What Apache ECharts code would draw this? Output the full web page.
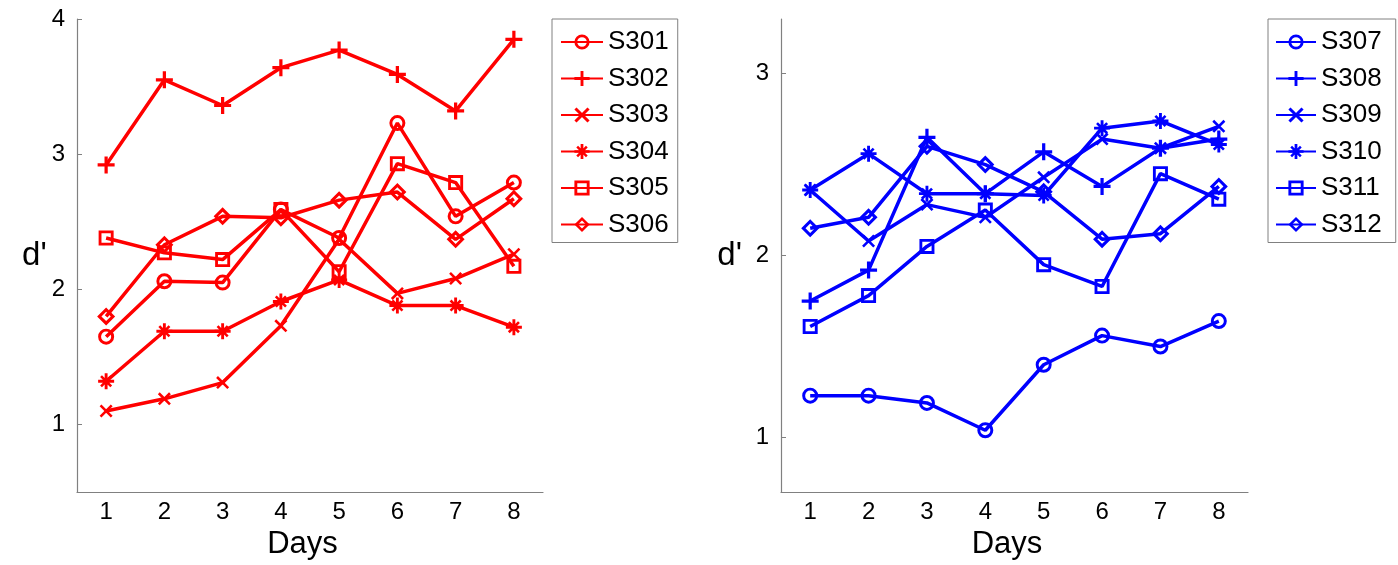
<!DOCTYPE html>
<html>
<head>
<meta charset="utf-8">
<script src="https://cdn.jsdelivr.net/npm/echarts@6/dist/echarts.min.js"></script>
<style>
html,body{margin:0;padding:0;background:#fff;}
#chart{width:1398px;height:565px;}
</style>
</head>
<body>
<div id="chart"></div>
<script>
// ---- data ----
const days = ['1', '2', '3', '4', '5', '6', '7', '8'];
const yTicksLeft = [1, 2, 3, 4];
const yTicksRight = [1, 2, 3];

const namesLeft = ['S301', 'S302', 'S303', 'S304', 'S305', 'S306'];
const S301 = [1.65, 2.06, 2.05, 2.59, 2.38, 3.23, 2.54, 2.79];
const S302 = [2.92, 3.55, 3.36, 3.64, 3.77, 3.59, 3.32, 3.85];
const S303 = [1.10, 1.19, 1.31, 1.73, 2.37, 1.97, 2.08, 2.26];
const S304 = [1.32, 1.69, 1.69, 1.91, 2.07, 1.88, 1.88, 1.72];
const S305 = [2.38, 2.27, 2.22, 2.59, 2.13, 2.93, 2.79, 2.17];
const S306 = [1.80, 2.33, 2.54, 2.53, 2.66, 2.72, 2.37, 2.67];

const namesRight = ['S307', 'S308', 'S309', 'S310', 'S311', 'S312'];
const S307 = [1.23, 1.23, 1.19, 1.04, 1.40, 1.56, 1.50, 1.64];
const S308 = [1.75, 1.92, 2.65, 2.34, 2.57, 2.38, 2.59, 2.64];
const S309 = [2.36, 2.08, 2.28, 2.21, 2.43, 2.64, 2.59, 2.71];
const S310 = [2.36, 2.56, 2.34, 2.34, 2.33, 2.70, 2.74, 2.61];
const S311 = [1.61, 1.78, 2.05, 2.25, 1.95, 1.83, 2.45, 2.31];
const S312 = [2.15, 2.21, 2.60, 2.50, 2.35, 2.09, 2.12, 2.38];

const leftData = [S301, S302, S303, S304, S305, S306];
const rightData = [S307, S308, S309, S310, S311, S312];

// ---- marker shapes (hollow, transparent interior) ----
const SYM_RING = 'path://M-10,0 A10,10 0 1,0 10,0 A10,10 0 1,0 -10,0 Z M-6.3,0 A6.3,6.3 0 1,1 6.3,0 A6.3,6.3 0 1,1 -6.3,0 Z';
const SYM_PLUS = 'path://M-1.9,-10 H1.9 V-1.9 H10 V1.9 H1.9 V10 H-1.9 V1.9 H-10 V-1.9 H-1.9 Z';
const SYM_X = 'path://M-10,-7.2 L-7.2,-10 L10,7.2 L7.2,10 Z M7.2,-10 L10,-7.2 L-7.2,10 L-10,7.2 Z';
const SYM_STAR = 'path://M-1.8,-10 H1.8 V-1.8 H10 V1.8 H1.8 V10 H-1.8 V1.8 H-10 V-1.8 H-1.8 Z ' +
  'M-7.5,-5.2 L-5.2,-7.5 L7.5,5.2 L5.2,7.5 Z M5.2,-7.5 L7.5,-5.2 L-5.2,7.5 L-7.5,5.2 Z';
const SYM_SQUARE = 'path://M-10,-10 H10 V10 H-10 Z M-6.2,-6.2 V6.2 H6.2 V-6.2 Z';
const SYM_DIAMOND = 'path://M0,-10 L10,0 L0,10 L-10,0 Z M0,-5.2 L-5.2,0 L0,5.2 L5.2,0 Z';

const symbols = [SYM_RING, SYM_PLUS, SYM_X, SYM_STAR, SYM_SQUARE, SYM_DIAMOND];
const symSizes = [16, 17, 13, 16, 15, 18];

const FONT = '"Liberation Sans", Arial, Helvetica, sans-serif';
const AXIS_GRAY = '#808080';

function makeSeries(names, data, color, idx) {
  return names.map((n, i) => ({
    name: n,
    type: 'line',
    xAxisIndex: idx,
    yAxisIndex: idx,
    data: data[i],
    symbol: symbols[i],
    symbolSize: symSizes[i],
    showAllSymbol: true,
    lineStyle: { color: color, width: 3.5 },
    itemStyle: { color: color, borderWidth: 0 },
    emphasis: { disabled: true }
  }));
}

function xAxis(idx) {
  return {
    type: 'category',
    gridIndex: idx,
    data: days,
    boundaryGap: true,
    name: 'Days',
    nameLocation: 'middle',
    nameGap: 36,
    nameTextStyle: { fontFamily: FONT, fontSize: 31, color: '#000', padding: [0, 15, 0, 0] },
    axisLine: { lineStyle: { color: AXIS_GRAY, width: 1.2 } },
    axisTick: { inside: true, alignWithLabel: true, length: 5, lineStyle: { color: AXIS_GRAY } },
    axisLabel: { fontFamily: FONT, fontSize: 24, color: '#000', margin: 8 },
    splitLine: { show: false }
  };
}

function yAxis(idx, min, max, ticks, gap) {
  return {
    type: 'value',
    gridIndex: idx,
    min: min,
    max: max,
    name: "d'",
    nameLocation: 'middle',
    nameRotate: 0,
    nameGap: gap,
    nameTextStyle: { fontFamily: FONT, fontSize: 33, color: '#000', padding: [8, 0, 0, 0] },
    axisLine: { show: true, lineStyle: { color: AXIS_GRAY, width: 1.2 } },
    axisTick: { show: true, inside: true, length: 5, customValues: ticks, lineStyle: { color: AXIS_GRAY } },
    axisLabel: { fontFamily: FONT, fontSize: 24, color: '#000', margin: 12, customValues: ticks },
    splitLine: { show: false }
  };
}

function legend(left, names, itemWidth, padding) {
  return {
    left: left,
    top: 19,
    orient: 'vertical',
    data: names,
    itemWidth: itemWidth,
    itemHeight: 19,
    itemGap: 10.5,
    padding: padding,
    borderColor: '#808080',
    borderWidth: 1,
    backgroundColor: '#fff',
    selectedMode: false,
    textStyle: { fontFamily: FONT, fontSize: 26, color: '#000' }
  };
}

const chart = echarts.init(document.getElementById('chart'), null, { renderer: 'canvas' });
chart.setOption({
  animation: false,
  backgroundColor: '#fff',
  grid: [
    { left: 77, top: 19, width: 466, height: 474 },
    { left: 781, top: 19, width: 467, height: 474 }
  ],
  xAxis: [xAxis(0), xAxis(1)],
  yAxis: [
    yAxis(0, 0.5, 4, yTicksLeft, 29),
    yAxis(1, 0.7, 3.3, yTicksRight, 39)
  ],
  legend: [
    legend(552, namesLeft, 42, [10, 9, 5, 8]),
    legend(1268, namesRight, 40, [10, 14, 5, 7])
  ],
  series: makeSeries(namesLeft, leftData, '#ff0000', 0)
    .concat(makeSeries(namesRight, rightData, '#0000ff', 1))
});
</script>
</body>
</html>
